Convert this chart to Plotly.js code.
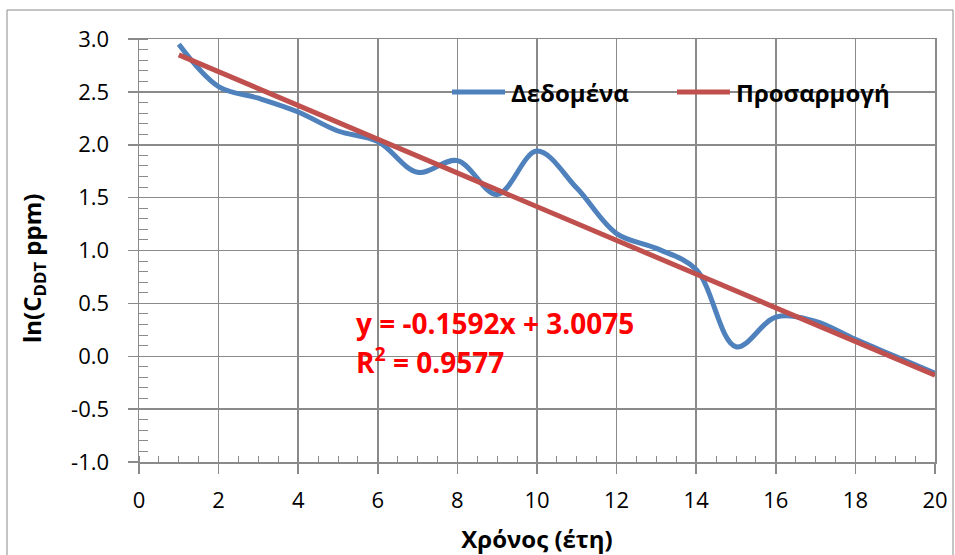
<!DOCTYPE html>
<html><head><meta charset="utf-8">
<script src="https://cdn.plot.ly/plotly-3.0.1.min.js"></script>
<style>body{margin:0;background:#fff}#chart{width:955px;height:555px}</style>
</head><body><div id="chart"></div>
<script>
// Data
const years = [1,2,3,4,5,6,7,8,9,10,11,12,13,14,15,16,17,18,19,20];
const lnC   = [2.95,2.55,2.44,2.31,2.13,2.03,1.74,1.85,1.53,1.94,1.59,1.16,1.02,0.82,0.09,0.37,0.33,0.16,0.00,-0.16];
const fitX  = [1,20];
const fitY  = [2.85,-0.18];
const seriesNames = ['Δεδομένα','Προσαρμογή'];
const seriesColors = ['#4F81BD','#C0504D'];
const yTickVals = [-1,-0.5,0,0.5,1,1.5,2,2.5,3];
const yTickText = ['-1.0','-0.5','0.0','0.5','1.0','1.5','2.0','2.5','3.0'];
const xTickVals = [0,2,4,6,8,10,12,14,16,18,20];
const xTickText = ['0','2','4','6','8','10','12','14','16','18','20'];
const eqLine1 = 'y = -0.1592x + 3.0075';
const eqLine2 = 'R<sup>2</sup> = 0.9577';
const xTitle = 'Χρόνος (έτη)';
const yTitle = 'ln(C<sub>DDT</sub> ppm)';

const W = 955, H = 555;
const L = 139, R = 20, T = 39, B = 93;
const pw = W - L - R, ph = H - T - B;
const px = v => (v - L) / pw;
const py = v => (H - B - v) / ph;

const FONT = '"Open Sans", "Noto Sans", sans-serif';
const GRID = '#8a8a8a';

const traces = [
  {x: years, y: lnC, type: 'scatter', mode: 'lines', name: seriesNames[0], showlegend: false,
   line: {color: seriesColors[0], width: 5, shape: 'spline', smoothing: 1}},
  {x: fitX, y: fitY, type: 'scatter', mode: 'lines', name: seriesNames[1], showlegend: false,
   line: {color: seriesColors[1], width: 5}}
];

// manual legend (line samples + labels)
const legendItems = [
  {x0: 452, x1: 505, tx: 509},
  {x0: 677, x1: 730, tx: 734}
];
const legendY = 92;
const legendShapes = legendItems.map((it, i) => ({
  type: 'line', xref: 'paper', yref: 'paper', x0: px(it.x0), x1: px(it.x1), y0: py(legendY), y1: py(legendY),
  line: {color: seriesColors[i], width: 5}, layer: 'above'
}));
const legendTexts = legendItems.map((it, i) => ({
  text: seriesNames[i], xref: 'paper', yref: 'paper', x: px(it.tx), y: py(legendY + 1),
  xanchor: 'left', yanchor: 'middle', showarrow: false,
  font: {family: FONT, size: 24, color: '#000', weight: 'bold'}
}));

const axisCommon = {
  showgrid: true, gridcolor: GRID, gridwidth: 1.5,
  showline: true, linecolor: GRID, linewidth: 1.5, mirror: true,
  ticks: 'outside', ticklen: 10, tickcolor: GRID, tickwidth: 1.5,
  zeroline: false, tickmode: 'array'
};

const layout = {
  width: W, height: H,
  margin: {l: L, r: R, t: T, b: B, pad: 0},
  paper_bgcolor: '#fff', plot_bgcolor: '#fff',
  font: {family: FONT, color: '#000'},
  showlegend: false,
  xaxis: Object.assign({}, axisCommon, {
    range: [0, 20], tickvals: xTickVals, ticktext: xTickText,
    minor: {dtick: 0.5, tick0: 0, ticks: 'inside', ticklen: 6, tickcolor: GRID, tickwidth: 1, showgrid: false},
    tickfont: {family: FONT, size: 22, color: '#000'},
    ticklabelstandoff: 8,
    title: {text: xTitle, font: {family: FONT, size: 24, color: '#000', weight: 'bold'}, standoff: 21}
  }),
  yaxis: Object.assign({}, axisCommon, {
    range: [-1, 3], tickvals: yTickVals, ticktext: yTickText,
    minor: {dtick: 0.1, tick0: 0, ticks: 'inside', ticklen: 9, tickcolor: GRID, tickwidth: 1, showgrid: false},
    tickfont: {family: FONT, size: 22, color: '#000'},
    ticklabelstandoff: 14
  }),
  yaxis2: {
    overlaying: 'y', side: 'left', range: [-1, 3], tickmode: 'array', tickvals: yTickVals,
    showticklabels: false, showgrid: false, zeroline: false, showline: false,
    ticks: 'inside', ticklen: 10, tickcolor: GRID, tickwidth: 1.5
  },
  annotations: [
    {text: yTitle, xref: 'paper', yref: 'paper', x: px(33), y: py(269), textangle: -90,
     showarrow: false, xanchor: 'center', yanchor: 'middle',
     font: {family: FONT, size: 24, color: '#000', weight: 'bold'}},
    {text: eqLine1, xref: 'paper', yref: 'paper', x: px(354), y: py(323), xanchor: 'left', yanchor: 'middle',
     showarrow: false, font: {family: FONT, size: 28, color: '#FF0000', weight: 'bold'}},
    {text: eqLine2, xref: 'paper', yref: 'paper', x: px(354), y: py(360), xanchor: 'left', yanchor: 'middle',
     showarrow: false, font: {family: FONT, size: 28, color: '#FF0000', weight: 'bold'}}
  ].concat(legendTexts),
  shapes: [
    {type: 'rect', xref: 'paper', yref: 'paper', x0: px(7), x1: px(953), y0: py(575), y1: py(10),
     line: {color: GRID, width: 1}, fillcolor: 'rgba(0,0,0,0)', layer: 'below'}
  ].concat(legendShapes)
};

Plotly.newPlot('chart', traces, layout, {staticPlot: true, displayModeBar: false});
</script></body></html>
